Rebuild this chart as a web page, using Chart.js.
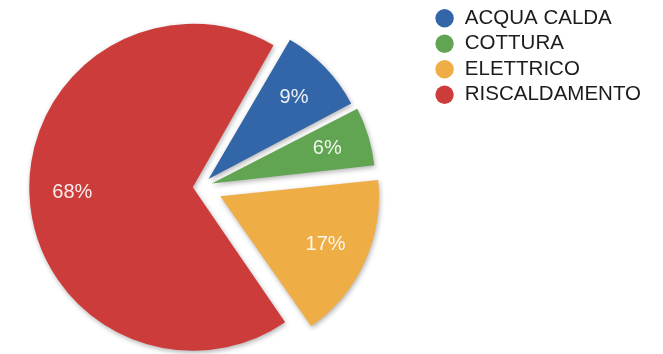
<!DOCTYPE html>
<html>
<head>
<meta charset="utf-8">
<script src="https://cdn.jsdelivr.net/npm/chart.js@4"></script>
<style>
  html, body { margin: 0; padding: 0; background: #ffffff; overflow: hidden; }
  #wrap { position: absolute; left: -29px; top: 0; width: 692px; height: 371px; }
</style>
</head>
<body>
<div id="wrap"><canvas id="c"></canvas></div>
<script>
// Energy use shares by category (percent)
const categories = ['ACQUA CALDA', 'COTTURA', 'ELETTRICO', 'RISCALDAMENTO'];
const shares = [9, 6, 17, 68];
const sliceColors = ['#3366a8', '#61a451', '#efad46', '#cc3c3a'];
// how far each wedge is pulled out of the pie
const explode = [46, 48, 88, 30];

const FONT = "'Liberation Sans', Arial, Helvetica, sans-serif";

// distance Chart.js actually translates an arc for a given offset option
function arcShift(el, off) {
  const circ = el.endAngle - el.startAngle;
  const base = off / 4;
  const fix = 1 - Math.sin(Math.min(Math.PI, circ));
  return base + base * fix;
}

// soft drop shadow under the wedges
const sliceShadow = {
  id: 'sliceShadow',
  beforeDatasetsDraw(chart) {
    const ctx = chart.ctx;
    ctx.save();
    ctx.shadowColor = 'rgba(0,0,0,0.30)';
    ctx.shadowBlur = 5;
    ctx.shadowOffsetX = 1;
    ctx.shadowOffsetY = 2;
  },
  afterDatasetsDraw(chart) {
    chart.ctx.restore();
  }
};

// percentage written inside each wedge
const pctLabels = {
  id: 'pctLabels',
  afterDatasetsDraw(chart) {
    const ctx = chart.ctx;
    const meta = chart.getDatasetMeta(0);
    ctx.save();
    ctx.font = '20px ' + FONT;
    ctx.fillStyle = 'rgba(255,255,255,0.9)';
    ctx.textAlign = 'center';
    ctx.textBaseline = 'middle';
    meta.data.forEach((el, i) => {
      const mid = (el.startAngle + el.endAngle) / 2;
      const d = arcShift(el, explode[i]) + el.outerRadius * 0.725;
      ctx.fillText(shares[i] + '%', el.x + Math.cos(mid) * d, el.y + Math.sin(mid) * d);
    });
    ctx.restore();
  }
};

new Chart(document.getElementById('c'), {
  type: 'pie',
  data: {
    labels: categories,
    datasets: [{
      data: shares,
      backgroundColor: sliceColors,
      borderWidth: 0,
      offset: explode
    }]
  },
  options: {
    responsive: true,
    maintainAspectRatio: false,
    animation: false,
    events: [],
    rotation: 30,
    radius: 156,
    layout: { padding: { left: 0, right: 12, top: 3, bottom: 0 } },
    plugins: {
      tooltip: { enabled: false },
      legend: {
        position: 'right',
        align: 'start',
        labels: {
          usePointStyle: true,
          pointStyle: 'circle',
          boxWidth: 20,
          boxHeight: 13,
          padding: 5,
          color: '#1c1c1c',
          font: { family: FONT, size: 20.5 }
        }
      }
    }
  },
  plugins: [sliceShadow, pctLabels]
});
</script>
</body>
</html>
